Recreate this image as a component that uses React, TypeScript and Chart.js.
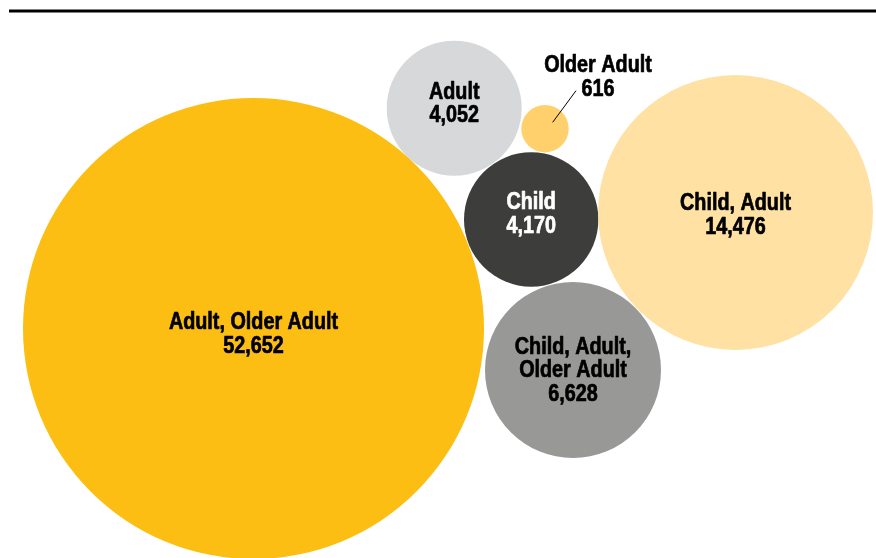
import React, { useEffect, useRef } from "react";
import { Chart, registerables } from "chart.js";

Chart.register(...registerables);

// ---- data ----
const categories = [
  "Adult, Older Adult",
  "Adult",
  "Older Adult",
  "Child",
  "Child, Adult",
  "Child, Adult, Older Adult",
];
const counts = [52652, 4052, 616, 4170, 14476, 6628];

// label line breaks for each category
const labelLines = [
  ["Adult, Older Adult"],
  ["Adult"],
  ["Older Adult"],
  ["Child"],
  ["Child, Adult"],
  ["Child, Adult,", "Older Adult"],
];

// ---- bubble layout (packing positions in the chart's coordinate space) ----
const bubbleX = [253.5, 454.2, 545, 531.2, 735.5, 573];
const bubbleY = [328.5, 108.2, 128.7, 219.5, 212.5, 370];
const bubbleR = [230.5, 67.5, 23.7, 67.2, 137.5, 88];

// ---- styles ----
const colors = ["#FCBE12", "#D7D8DA", "#FFD06C", "#3D3D3C", "#FFE1A3", "#989897"];
const textColors = ["#000", "#000", "#000", "#fff", "#000", "#000"];
const labelDy = [5, -5, 0, -6, 2, 0];
const W = 876;
const H = 558;
const FONT = "bold 23px 'Liberation Sans', Arial, sans-serif";
const SCALE_X = 0.86;
const LINE_H = 23.5;

const fmt = (n: number) => n.toLocaleString("en-US");

const labelPlugin = {
  id: "bubbleLabels",
  beforeDraw(chart: any) {
    const ctx = chart.ctx;
    ctx.save();
    ctx.fillStyle = "#000";
    ctx.fillRect(9, 9.5, W - 9, 3);
    ctx.restore();
  },
  afterDatasetsDraw(chart: any) {
    const ctx = chart.ctx;
    const meta = chart.getDatasetMeta(0);
    ctx.save();
    ctx.font = FONT;
    ctx.textAlign = "center";
    ctx.textBaseline = "middle";
    meta.data.forEach((el: any, i: number) => {
      const lines = [...labelLines[i], fmt(counts[i])];
      let cx = el.x;
      let cy = el.y + labelDy[i];
      let col = textColors[i];
      if (i === 2) {
        // small bubble: label outside with a leader line
        ctx.strokeStyle = "#000";
        ctx.lineWidth = 1;
        ctx.beginPath();
        ctx.moveTo(el.x + 7.7, el.y - 6.4);
        ctx.lineTo(el.x + 31, el.y - 38);
        ctx.stroke();
        cx = el.x + 53;
        cy = el.y - 52;
        col = "#000";
      }
      ctx.fillStyle = col;
      ctx.strokeStyle = col;
      ctx.lineWidth = 0.7;
      ctx.lineJoin = "round";
      const top = cy - ((lines.length - 1) * LINE_H) / 2;
      lines.forEach((t, k) => {
        ctx.save();
        ctx.translate(cx, top + k * LINE_H + 1);
        ctx.scale(SCALE_X, 1);
        ctx.fillText(t, 0, 0);
        ctx.strokeText(t, 0, 0);
        ctx.restore();
      });
    });
    ctx.restore();
  },
};

export default function App() {
  const ref = useRef<HTMLCanvasElement | null>(null);
  useEffect(() => {
    document.body.style.margin = "0";
    const canvas = ref.current;
    if (!canvas) return;
    const chart = new Chart(canvas, {
      type: "bubble",
      data: {
        labels: categories,
        datasets: [
          {
            label: "Age groups",
            data: categories.map((_, i) => ({ x: bubbleX[i], y: bubbleY[i], r: bubbleR[i] })),
            backgroundColor: colors,
            borderWidth: 0,
            hoverBorderWidth: 0,
          },
        ],
      },
      options: {
        responsive: false,
        animation: false,
        maintainAspectRatio: false,
        layout: { padding: 0, autoPadding: false },
        plugins: { legend: { display: false }, tooltip: { enabled: false } },
        events: [],
        scales: {
          x: { type: "linear", min: 0, max: W, display: false },
          y: { type: "linear", min: 0, max: H, reverse: true, display: false },
        },
      },
      plugins: [labelPlugin],
    });
    return () => chart.destroy();
  }, []);
  return (
    <div style={{ position: "fixed", left: 0, top: 0, width: W, height: H, background: "#fff" }}>
      <canvas ref={ref} width={W} height={H} style={{ width: W, height: H, display: "block" }} />
    </div>
  );
}
